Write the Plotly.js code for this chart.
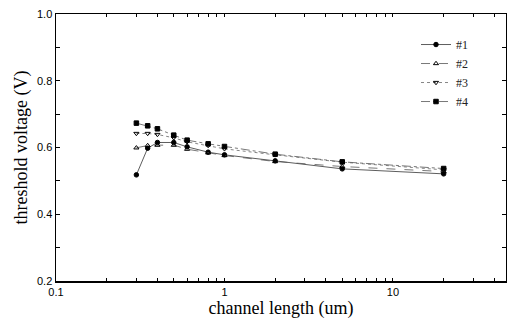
<!DOCTYPE html>
<html><head><meta charset="utf-8">
<script src="https://cdn.plot.ly/plotly-3.0.1.min.js"></script>
<style>body{margin:0;background:#fff}#c{width:507px;height:323px}</style>
</head><body><div id="c"></div>
<script>
const lengths = [0.3, 0.35, 0.4, 0.5, 0.6, 0.8, 1, 2, 5, 20];
const s1 = [0.518, 0.598, 0.615, 0.615, 0.602, 0.586, 0.578, 0.560, 0.536, 0.521];
const s2 = [0.599, 0.606, 0.607, 0.607, 0.595, 0.584, 0.576, 0.558, 0.543, 0.528];
const s3 = [0.642, 0.642, 0.639, 0.629, 0.617, 0.606, 0.596, 0.578, 0.556, 0.533];
const s4 = [0.673, 0.665, 0.656, 0.637, 0.622, 0.611, 0.603, 0.580, 0.557, 0.537];
const names = ['#1', '#2', '#3', '#4'];
const xTickVals = [0.1,0.2,0.3,0.4,0.5,0.6,0.7,0.8,0.9,1,2,3,4,5,6,7,8,9,10,20,30,40];
const xTickText = ['0.1','','','','','','','','','1','','','','','','','','','10','','',''];
const yTickVals = [0.2,0.3,0.4,0.5,0.6,0.7,0.8,0.9,1.0];
const yTickText = ['0.2','','0.4','','0.6','','0.8','','1.0'];

const styles = [
  {dash:'solid', symbol:'circle', color:'#333'},
  {dash:'dash', symbol:'triangle-up-open', color:'#555'},
  {dash:'dot', symbol:'triangle-down-open', color:'#666'},
  {dash:'dashdot', symbol:'square', color:'#555'}
];
const series = [s1, s2, s3, s4];
const data = series.map((s, i) => ({
  x: lengths, y: s, name: names[i], type: 'scatter', mode: 'lines+markers',
  line: {color: styles[i].color, width: 0.8, dash: styles[i].dash},
  marker: {symbol: styles[i].symbol, size: 4.5, color: '#000', line: {color: '#000', width: 1}}
}));
const layout = {
  width: 507, height: 323,
  margin: {l: 56, r: 1, t: 14, b: 42},
  paper_bgcolor: '#fff', plot_bgcolor: '#fff',
  showlegend: true,
  legend: {x: 0.8, y: 0.94, xanchor: 'left', yanchor: 'top', bgcolor: 'rgba(0,0,0,0)',
    font: {family: 'Liberation Serif', size: 12, color: '#222'}, tracegroupgap: 0, itemwidth: 30},
  xaxis: {type: 'log', range: [-1, 1.671], tickvals: xTickVals, ticktext: xTickText,
    ticks: 'inside', ticklen: 3, tickwidth: 1, tickcolor: '#000',
    showline: true, linecolor: '#000', linewidth: 1.5, mirror: 'ticks', showgrid: false, zeroline: false,
    tickfont: {family: 'Liberation Sans', size: 11, color: '#000'},
    title: {text: 'channel length (um)', font: {family: 'Liberation Serif', size: 18, color: '#000'}, standoff: 2}},
  yaxis: {range: [0.2, 1.0], tickvals: yTickVals, ticktext: yTickText,
    ticks: 'inside', ticklen: 4, tickwidth: 1, tickcolor: '#000',
    showline: true, linecolor: '#000', linewidth: 1.5, mirror: 'ticks', showgrid: false, zeroline: false,
    tickfont: {family: 'Liberation Sans', size: 11, color: '#000'},
    title: {text: 'threshold voltage (V)', font: {family: 'Liberation Serif', size: 18, color: '#000'}, standoff: 4}}
};
Plotly.newPlot('c', data, layout, {displayModeBar: false, staticPlot: true});
</script></body></html>
